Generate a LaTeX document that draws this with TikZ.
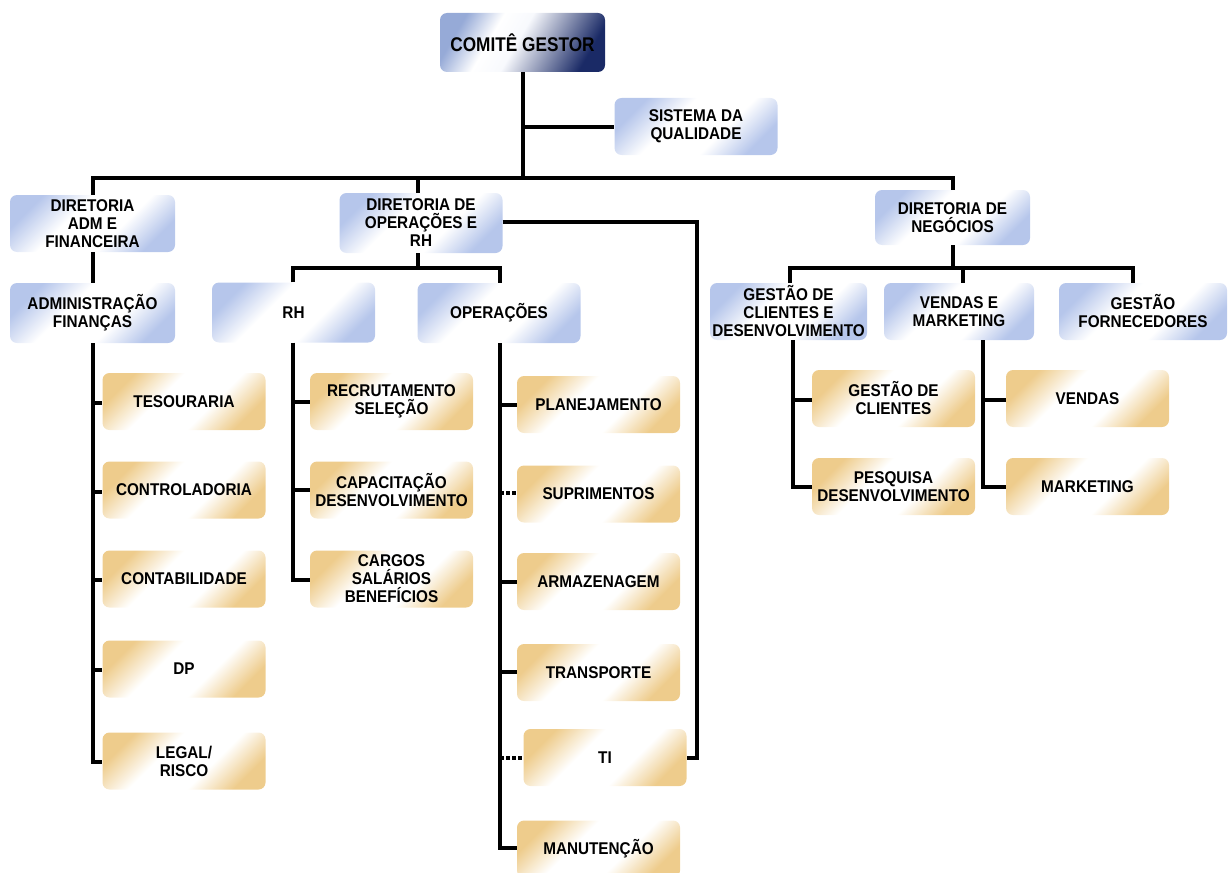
\documentclass[tikz,border=0pt]{standalone}
\usepackage{fontspec}
\usepackage{graphicx}
\setmainfont{Liberation Sans}
\newfontfamily\condfont{Liberation Sans}[FakeStretch=0.9]
\newfontfamily\headfont{Liberation Sans}[FakeStretch=0.87]
\usetikzlibrary{calc}

\definecolor{bluetint}{RGB}{182,198,235}
\definecolor{headlight}{RGB}{150,170,215}
\definecolor{navy}{RGB}{26,42,102}
\definecolor{tantint}{RGB}{238,204,140}

% box fills: tinted corners, white band through the middle
\pgfdeclarehorizontalshading{blueshade}{100bp}{color(0bp)=(bluetint); color(25bp)=(bluetint); color(41bp)=(white); color(60bp)=(white); color(75bp)=(bluetint); color(100bp)=(bluetint)}
\pgfdeclarehorizontalshading{tanshade}{100bp}{color(0bp)=(tantint); color(25bp)=(tantint); color(41bp)=(white); color(60bp)=(white); color(75bp)=(tantint); color(100bp)=(tantint)}
\pgfdeclarehorizontalshading{headshade}{100bp}{color(0bp)=(headlight); color(25bp)=(headlight); color(38bp)=(white); color(48bp)=(white!90!bluetint); color(75bp)=(navy); color(100bp)=(navy)}

\tikzset{
  box/.style={rounded corners=7pt, minimum width=163pt, minimum height=57pt,
    inner sep=1pt, align=center, text=black,
    font=\condfont\bfseries\fontsize{17}{18}\selectfont},
  bluebox/.style={box, shade, shading=blueshade, shading angle=-45},
  tanbox/.style={box, shade, shading=tanshade, shading angle=-45},
  headbox/.style={box, shade, shading=headshade, shading angle=-30,
    minimum width=165pt, minimum height=59pt,
    font=\headfont\bfseries\fontsize{19.8}{21}\selectfont},
  link/.style={line width=3.6pt, line join=miter, black},
  dashlink/.style={link, dash pattern=on 4pt off 2pt}
}

\begin{document}
\begin{tikzpicture}[x=1pt, y=-1pt]
\useasboundingbox (0,0) rectangle (1230,872);
\clip (0,0) rectangle (1230,872);

% top level
\node[headbox] (comite) at (522.5,42.5) {COMITÊ GESTOR};
\node[bluebox] (qual) at (696,126.5) {SISTEMA DA\\QUALIDADE};

% directorates
\node[bluebox, minimum width=165pt] (dadm) at (92.5,223.5) {DIRETORIA\\ADM E\\FINANCEIRA};
\node[bluebox, minimum height=60pt] (dops) at (421,223) {DIRETORIA DE\\OPERAÇÕES E\\RH};
\node[bluebox, minimum width=155pt, minimum height=55pt] (dneg) at (952.5,217.5) {DIRETORIA DE\\NEGÓCIOS};

% second level
\node[bluebox, minimum width=165pt, minimum height=60pt] (adm) at (92.5,313) {ADMINISTRAÇÃO\\FINANÇAS};
\node[bluebox, minimum height=60pt] (rh) at (293.5,312.5) {RH};
\node[bluebox, minimum height=60pt] (ops) at (499,313) {OPERAÇÕES};
\node[bluebox, minimum width=157pt] (gcli) at (788.5,311.5) {GESTÃO DE\\CLIENTES E\\DESENVOLVIMENTO};
\node[bluebox, minimum width=150pt] (vm) at (959,311.5) {VENDAS E\\MARKETING};
\node[bluebox, minimum width=168pt] (gforn) at (1143,311.5) {GESTÃO\\FORNECEDORES};

% finance units
\node[tanbox] (tes) at (184,401.5) {TESOURARIA};
\node[tanbox] (ctrl) at (184,490) {CONTROLADORIA};
\node[tanbox] (cont) at (184,579) {CONTABILIDADE};
\node[tanbox] (dp) at (184,669) {DP};
\node[tanbox] (legal) at (184,761) {LEGAL/\\RISCO};

% HR units
\node[tanbox] (recr) at (391.5,401.5) {RECRUTAMENTO\\SELEÇÃO};
\node[tanbox] (capac) at (391.5,490) {CAPACITAÇÃO\\DESENVOLVIMENTO};
\node[tanbox] (cargos) at (391.5,579) {CARGOS\\SALÁRIOS\\BENEFÍCIOS};

% operations units
\node[tanbox] (plan) at (598.5,404.5) {PLANEJAMENTO};
\node[tanbox] (supr) at (598.5,494) {SUPRIMENTOS};
\node[tanbox] (armaz) at (598.5,581.5) {ARMAZENAGEM};
\node[tanbox] (transp) at (598.5,672.5) {TRANSPORTE};
\node[tanbox] (ti) at (605,757.5) {TI};
\node[tanbox] (manut) at (598.5,849) {MANUTENÇÃO};

% business units
\node[tanbox] (gcl2) at (893.5,398.5) {GESTÃO DE\\CLIENTES};
\node[tanbox] (pesq) at (893.5,486.5) {PESQUISA\\DESENVOLVIMENTO};
\node[tanbox] (vendas) at (1087.5,398.5) {VENDAS};
\node[tanbox] (mkt) at (1087.5,486.5) {MARKETING};

% bus coordinates
\coordinate (topbus) at (523,178);
\coordinate (opsbus) at (418,268);
\coordinate (negbus) at (953,268);

% main trunk
\draw[link] (comite.south -| topbus) -- (topbus);
\draw[link] (523,127) -- (qual.west |- 0,127);
\draw[link] (dadm.north -| 93,0) -- (93,178) -- (953,178) -- (dneg.north -| 953,0);
\draw[link] (418,178) -- (dops.north -| 418,0);

% finance branch
\draw[link] (dadm.south -| 93,0) -- (adm.north -| 93,0);
\draw[link] (adm.south -| 93,0) -- (93,762) -- (legal.west |- 0,762);
\foreach \n/\y in {tes/403, ctrl/492, cont/580, dp/670}
  \draw[link] (93,\y) -- (\n.west |- 0,\y);

% operations and HR
\draw[link] (dops.south -| 418,0) -- (opsbus);
\draw[link] (rh.north -| 293,0) -- (293,268) -- (500,268) -- (ops.north -| 500,0);
\draw[link] (rh.south -| 293,0) -- (293,580) -- (cargos.west |- 0,580);
\foreach \n/\y in {recr/402, capac/490}
  \draw[link] (293,\y) -- (\n.west |- 0,\y);
\draw[link] (ops.south -| 500,0) -- (500,848) -- (manut.west |- 0,848);
\foreach \n/\y in {plan/405, armaz/582, transp/672}
  \draw[link] (500,\y) -- (\n.west |- 0,\y);
\draw[dashlink] (500,493) -- (supr.west |- 0,493);
\draw[dashlink] (500,758) -- (ti.west |- 0,758);
\draw[link] (dops.east |- 0,222) -- (697,222) -- (697,758) -- (ti.east |- 0,758);

% business branch
\draw[link] (dneg.south -| 953,0) -- (negbus);
\draw[link] (gcli.north -| 790,0) -- (790,268) -- (1133,268) -- (gforn.north -| 1133,0);
\draw[link] (963,268) -- (vm.north -| 963,0);
\draw[link] (gcli.south -| 793,0) -- (793,487) -- (pesq.west |- 0,487);
\draw[link] (793,400) -- (gcl2.west |- 0,400);
\draw[link] (vm.south -| 983,0) -- (983,487) -- (mkt.west |- 0,487);
\draw[link] (983,400) -- (vendas.west |- 0,400);
\end{tikzpicture}
\end{document}
